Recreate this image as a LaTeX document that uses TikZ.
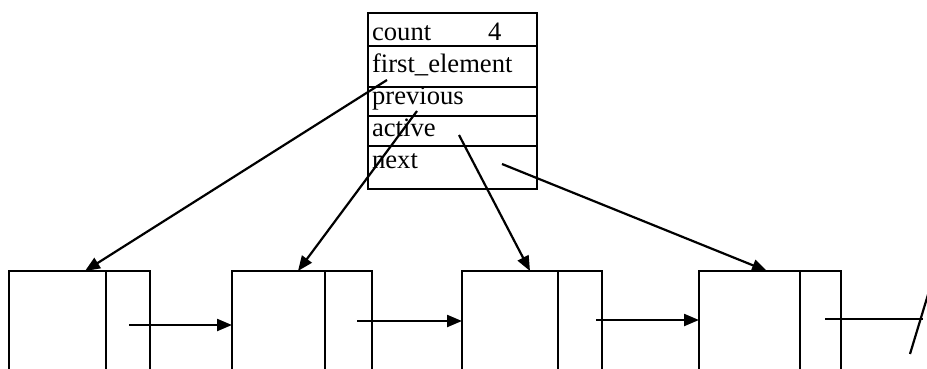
\documentclass[tikz,border=0pt]{standalone}
\usepackage{fontspec}
\setmainfont{Liberation Serif}
\usetikzlibrary{arrows.meta}
\begin{document}
\begin{tikzpicture}[x=1pt,y=-1pt,
  line width=2.2pt,
  field/.style={draw, minimum width=169pt, anchor=north west, inner sep=0pt},
  lbl/.style={anchor=base west, inner sep=0pt, font=\fontsize{26.6}{30}\selectfont},
  ptr/.style={-{Triangle[length=15pt,width=12pt]}},
  cellline/.style={line cap=rect}]
\useasboundingbox (0,0) rectangle (927,369);
% header record
\node[field, minimum height=33pt] (fcount) at (367,12) {};
\node[field, minimum height=41pt] (ffirst) at (367,45) {};
\node[field, minimum height=29pt] (fprev) at (367,86) {};
\node[field, minimum height=30pt] (fact) at (367,115) {};
\node[field, minimum height=43pt] (fnext) at (367,145) {};
\node[lbl] (tcount) at (371,41) {count};
\node[lbl] (tfour) at (487,41) {4};
\node[lbl] (tfirst) at (371,73) {first\_element};
\node[lbl] (tprev) at (371,104) {previous};
\node[lbl] (tact) at (371,136) {active};
\node[lbl] (tnext) at (371,168) {next};
% list cells
\foreach \n/\l/\d/\r in {1/9/106/150, 2/232/325/372, 3/462/558/602, 4/699/800/841}{
  \draw (\l,369) -- (\l,271) -- (\r,271) -- (\r,369);
  \draw (\d,271) -- (\d,369);
}
\coordinate (c1top) at (85,271);
\coordinate (c2top) at (298,271);
\coordinate (c3top) at (530,271);
\coordinate (c4top) at (767,271);
\coordinate (c2left) at (232,325);
\coordinate (c3left) at (462,321);
\coordinate (c4left) at (699,320);
\coordinate (n1) at (129,325);
\coordinate (n2) at (357,321);
\coordinate (n3) at (596,320);
\coordinate (n4) at (825,319);
\coordinate (nullend) at (923,319);
\coordinate (s1) at (910,354);
\coordinate (s2) at (930,288);
% pointers from header
\coordinate (pfirst) at (387,80);
\coordinate (pprev) at (417,111);
\coordinate (pact) at (459,135);
\coordinate (pnext) at (502,164);
\draw[ptr] (pfirst) -- (c1top);
\draw[ptr] (pprev) -- (c2top);
\draw[ptr] (pact) -- (c3top);
\draw[ptr] (pnext) -- (c4top);
% next pointers
\draw[ptr] (n1) -- (c2left);
\draw[ptr] (n2) -- (c3left);
\draw[ptr] (n3) -- (c4left);
\draw (n4) -- (nullend);
\draw (s1) -- (s2);
\end{tikzpicture}
\end{document}
